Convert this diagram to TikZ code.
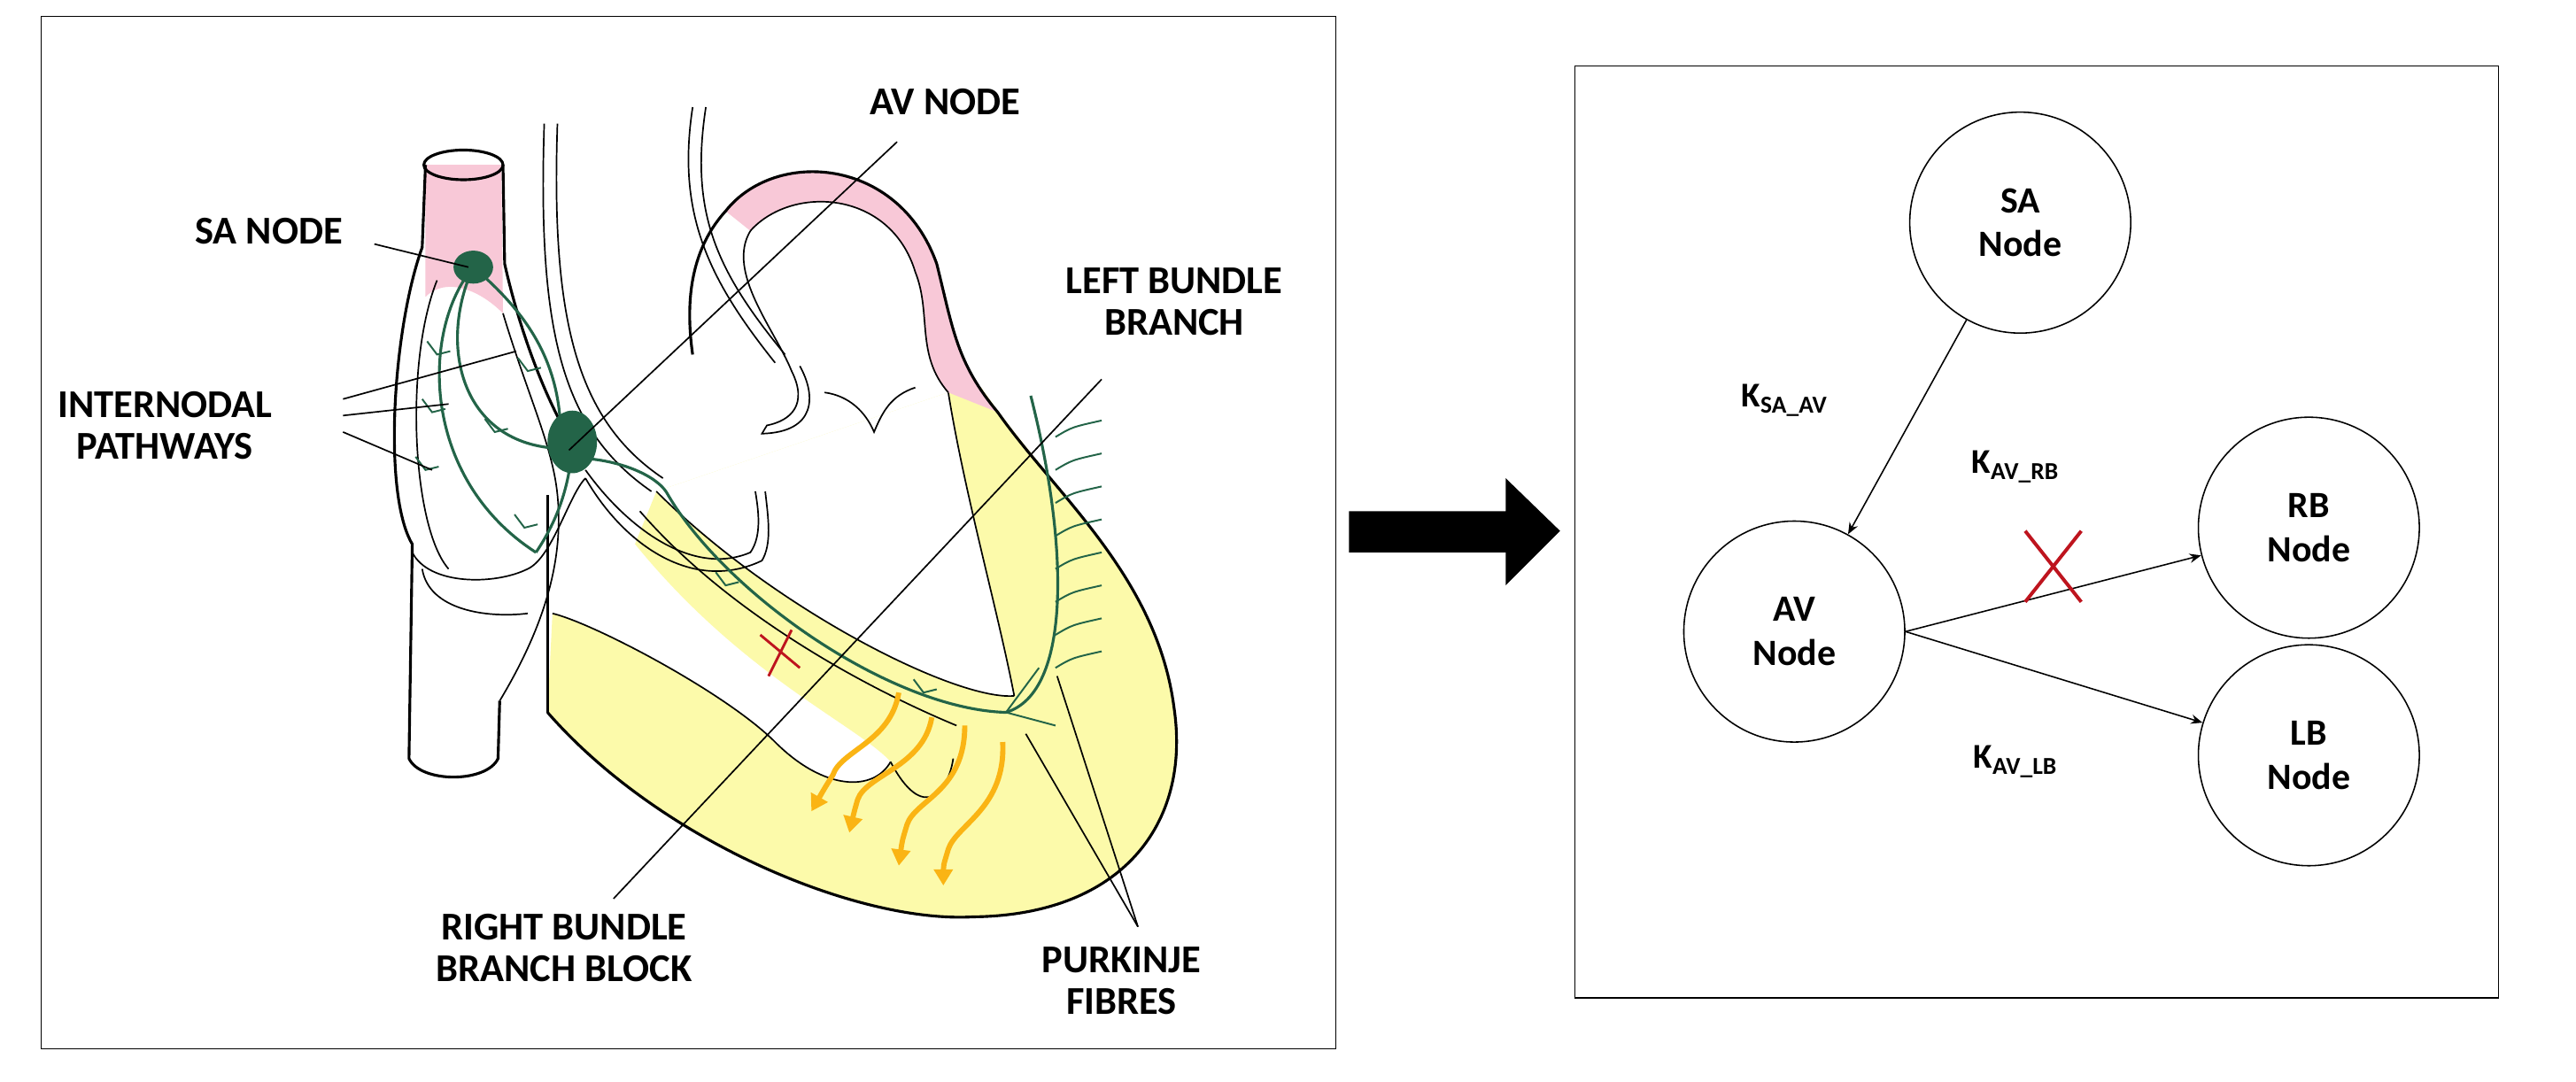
\documentclass[tikz,border=0pt]{standalone}
\usepackage{fontspec}
\setmainfont{Carlito}
\usetikzlibrary{arrows.meta}
\definecolor{grn}{RGB}{35,100,72}
\definecolor{pnk}{RGB}{248,200,215}
\definecolor{ylw}{RGB}{252,250,170}
\definecolor{org}{RGB}{250,180,20}
\definecolor{rx}{RGB}{190,20,30}
\begin{document}
\begin{tikzpicture}[x=0.05cm,y=-0.05cm,
 lab/.style={font=\fontsize{34}{40}\selectfont\bfseries,align=center,inner sep=0},
 circ/.style={circle,draw,line width=1.2pt,minimum size=6.7cm,font=\fontsize{32}{38}\selectfont\bfseries,align=center},
 klab/.style={font=\fontsize{30}{36}\selectfont\bfseries,inner sep=0},
 ol/.style={line width=2.4pt},
 thin/.style={line width=1.3pt},
 ldr/.style={line width=1.3pt},
 gp/.style={grn,line width=2.4pt},
 warr/.style={org,line width=4.5pt,-{Triangle[length=14pt,width=16pt]}}]
\useasboundingbox (0,0) rectangle (1562,656);
\fill[white] (0,0) rectangle (1562,656);
% frames
\draw[line width=1.2pt] (25,10) rectangle (810,636);
\draw[line width=1.2pt] (955,40) rectangle (1515,605);
% big arrow
\fill (818,310) -- (913,310) -- (913,290) -- (946,322) -- (913,355) -- (913,335) -- (818,335) -- cycle;

% ---------- heart ----------
\fill[ylw] (332,432) .. controls (400,510) and (520,560) .. (590,556)
  .. controls (680,555) and (722,500) .. (712,430)
  .. controls (702,350) and (640,300) .. (595,235) -- (575,238) -- (398,298)
  -- (385,330) -- (335,372) -- cycle;
\fill[white] (575,238) .. controls (585,300) and (605,370) .. (615,422)
  .. controls (580,425) and (470,370) .. (398,298) -- cycle;
\fill[white] (335,372) .. controls (360,378) and (440,420) .. (470,450)
  .. controls (500,480) and (530,480) .. (540,462)
  .. controls (520,440) and (450,410) .. (385,330) -- (345,340) -- cycle;
\draw[thin] (335,372) .. controls (360,378) and (440,420) .. (470,450)
  .. controls (500,480) and (530,480) .. (540,462);
\draw[thin] (578,460) .. controls (575,480) and (560,500) .. (540,462);
\draw[thin] (388,310) .. controls (440,370) and (520,415) .. (580,440);
\draw[thin] (398,298) .. controls (470,370) and (580,425) .. (615,422);
\draw[thin] (575,238) .. controls (585,300) and (605,370) .. (615,422);
\draw[ol] (332,432) .. controls (400,510) and (520,560) .. (590,556)
  .. controls (680,555) and (722,500) .. (712,430)
  .. controls (702,350) and (640,300) .. (605,250);
\draw[ol] (332,432) -- (332,300);
\fill[pnk] (440,128) .. controls (470,90) and (545,95) .. (568,160)
  .. controls (578,200) and (580,220) .. (605,250) -- (575,238)
  .. controls (555,215) and (565,190) .. (555,165)
  .. controls (540,115) and (480,112) .. (455,140) -- cycle;
\draw[ol] (420,215) .. controls (415,180) and (420,150) .. (440,128)
  .. controls (470,90) and (545,95) .. (568,160)
  .. controls (578,200) and (580,220) .. (605,250);
\draw[thin] (455,140) .. controls (480,112) and (540,115) .. (555,165)
  .. controls (565,190) and (555,215) .. (575,238);
\draw[thin] (455,140) .. controls (440,165) and (470,200) .. (480,225)
  .. controls (490,245) and (480,255) .. (465,258) -- (462,263)
  .. controls (495,262) and (495,240) .. (485,222);
\draw[thin] (555,235) .. controls (540,240) and (535,250) .. (530,262)
  .. controls (525,250) and (515,240) .. (500,238);
\draw[thin] (420,65) .. controls (410,130) and (430,170) .. (470,220);
\draw[thin] (428,65) .. controls (418,130) and (435,165) .. (476,215);
\draw[thin] (330,75) .. controls (326,200) and (340,260) .. (395,298);
\draw[thin] (338,75) .. controls (334,195) and (350,255) .. (402,290);
\draw[thin] (355,285) .. controls (380,320) and (420,350) .. (455,335)
  .. controls (462,325) and (460,310) .. (458,298);
\draw[thin] (355,290) .. controls (378,330) and (420,360) .. (462,340)
  .. controls (468,330) and (466,315) .. (464,298);
\fill[pnk] (258,100) -- (304,100) -- (305,190) .. controls (290,175) and (270,168) .. (258,180) -- cycle;
\draw[ol] (258,100) -- (256,150) .. controls (238,200) and (232,300) .. (250,330) -- (248,460)
  .. controls (255,475) and (295,475) .. (302,460) -- (303,425);
\draw[ol] (281,100) ellipse (24 and 9);
\draw[ol] (305,100) -- (306,160) .. controls (315,200) and (330,240) .. (345,265);
\draw[thin] (305,190) .. controls (320,240) and (335,270) .. (338,300)
  .. controls (342,340) and (330,380) .. (303,425);
\draw[thin] (265,170) .. controls (245,220) and (250,320) .. (272,345);
\draw[thin] (250,335) .. controls (260,355) and (300,355) .. (320,345)
  .. controls (335,338) and (345,300) .. (355,290);
\draw[thin] (256,345) .. controls (260,370) and (295,375) .. (320,372);
% green conduction system
\draw[gp] (287,162) .. controls (255,200) and (255,290) .. (325,335);
\draw[gp] (287,162) .. controls (265,210) and (280,270) .. (340,272);
\draw[gp] (287,162) .. controls (320,190) and (340,220) .. (340,265);
\draw[gp] (347,270) .. controls (345,300) and (335,320) .. (325,335);
\draw[gp] (355,278) .. controls (380,280) and (400,290) .. (405,300)
  .. controls (440,360) and (540,430) .. (610,432)
  .. controls (650,420) and (648,330) .. (625,240);
\fill[grn] (287,162) ellipse (12 and 10);
\fill[grn] (347,268) ellipse (15 and 19);
\foreach \x/\y in {265/215, 262/250, 258/285, 320/225, 300/262, 318/320, 440/355, 560/420}
  \draw[grn,line width=1.5pt] (\x-6,\y-8) -- (\x,\y) -- (\x+8,\y-2);
\foreach \y in {265,285,305,325,345,365,385,405}
  \draw[grn,line width=1.5pt] (640,\y) .. controls (650,\y-6) .. (668,\y-10);
\draw[grn,line width=1.5pt] (610,432) -- (630,405);
\draw[grn,line width=1.5pt] (610,432) -- (640,440);
\draw[rx,line width=2.2pt] (461,385) -- (485,405) (480,382) -- (466,410);
\draw[warr] (545,420) .. controls (540,450) and (510,455) .. (505,470) .. controls (500,478) .. (492,492);
\draw[warr] (565,435) .. controls (560,465) and (525,470) .. (520,485) .. controls (518,492) .. (515,505);
\draw[warr] (585,440) .. controls (585,480) and (555,485) .. (550,500) .. controls (547,510) .. (545,525);
\draw[warr] (608,450) .. controls (610,490) and (580,500) .. (575,515) .. controls (572,525) .. (572,537);
% labels + leaders
\node[lab] (av) at (573,62) {AV NODE};
\node[lab] (sa) at (163,140) {SA NODE};
\node[lab] (ip) at (100,258) {INTERNODAL\\[-4pt]PATHWAYS};
\node[lab] (lb) at (712,183) {LEFT BUNDLE\\[-4pt]BRANCH};
\node[lab] (rb) at (342,575) {RIGHT BUNDLE\\[-4pt]BRANCH BLOCK};
\node[lab] (pf) at (680,595) {PURKINJE\\[-4pt]FIBRES};
\coordinate (avp) at (345,273);
\coordinate (sap) at (284,162);
\draw[ldr] (544,86) -- (avp);
\draw[ldr] (227,148) -- (sap);
\draw[ldr] (208,242) -- (313,213);
\draw[ldr] (208,252) -- (272,245);
\draw[ldr] (208,262) -- (262,285);
\draw[ldr] (668,230) -- (372,545);
\draw[ldr] (690,562) -- (641,410);
\draw[ldr] (690,562) -- (622,445);

% ---------- graph ----------
\node[circ] (SA) at (1225,135) {SA\\Node};
\node[circ] (AV) at (1088,383) {AV\\Node};
\node[circ] (RB) at (1400,320) {RB\\Node};
\node[circ] (LB) at (1400,458) {LB\\Node};
\draw[line width=1.2pt,-{Stealth[length=10pt,width=8pt]}] (SA) -- (AV);
\draw[line width=1.2pt,-{Stealth[length=10pt,width=8pt]}] (AV.east) -- (RB);
\draw[line width=1.2pt,-{Stealth[length=10pt,width=8pt]}] (AV.east) -- (LB);
\node[klab] at (1082,243) {K\textsubscript{SA\_AV}};
\node[klab] at (1222,283) {K\textsubscript{AV\_RB}};
\node[klab] at (1222,462) {K\textsubscript{AV\_LB}};
\draw[rx,line width=3pt] (1228,322) -- (1262,365) (1262,322) -- (1228,365);
\end{tikzpicture}
\end{document}
